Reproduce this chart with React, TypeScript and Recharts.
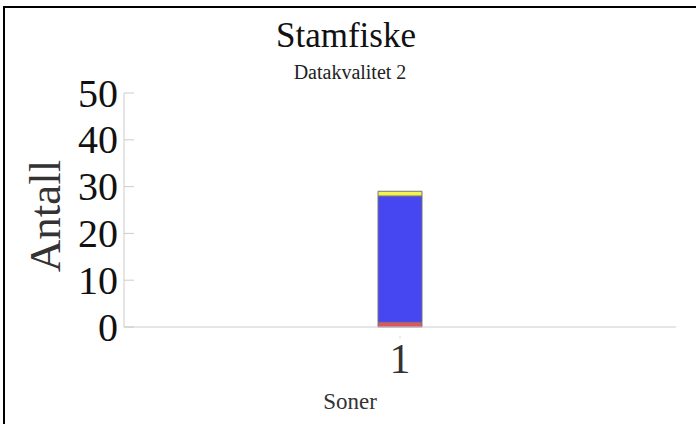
import { BarChart, Bar, XAxis, YAxis } from 'recharts'

const ZONES = ['1']
const RED = [1]
const BLUE = [27]
const YELLOW = [1]
const Y_TICKS = [0, 10, 20, 30, 40, 50]

const SERIES = [
  { key: 'red', color: '#e8505c' },
  { key: 'blue', color: '#4747f2' },
  { key: 'yellow', color: '#f2f250' },
]

const FONT = '"Liberation Serif", "Times New Roman", serif'

const data = ZONES.map((z, i) => ({
  zone: z,
  red: RED[i],
  blue: BLUE[i],
  yellow: YELLOW[i],
}))

function YTick(props: any) {
  const { x, y, payload } = props
  return (
    <g>
      <line x1={x + 6} y1={y} x2={x + 16} y2={y} stroke="#cccccc" strokeWidth={1} />
      <text x={x} y={y} textAnchor="end" dominantBaseline="central" fontSize={40} fontFamily={FONT} fill="#111">
        {payload.value}
      </text>
    </g>
  )
}

function XTick(props: any) {
  const { x, y, payload } = props
  return (
    <g>
      <line x1={x} y1={y + 1} x2={x} y2={y + 4} stroke="#dddddd" strokeWidth={1} />
      <text x={x} y={y + 38} textAnchor="middle" fontSize={42} fontFamily={FONT} fill="#333">
        {payload.value}
      </text>
    </g>
  )
}

export default function App() {
  return (
    <div style={{ position: 'absolute', left: 0, top: 0, width: 696, height: 424, background: '#fff', fontFamily: FONT }}>
      <div style={{ position: 'absolute', left: 3, top: 6, right: 0, bottom: 0, borderTop: '2px solid #000', borderLeft: '2px solid #000' }} />
      <div style={{ position: 'absolute', left: 0, width: 692, top: 14, textAlign: 'center', fontSize: 35, lineHeight: '44px', color: '#111' }}>
        Stamfiske
      </div>
      <div style={{ position: 'absolute', left: 0, width: 700, top: 60, textAlign: 'center', fontSize: 20, lineHeight: '24px', color: '#222' }}>
        Datakvalitet 2
      </div>
      <div
        style={{
          position: 'absolute', left: 45, top: 216, fontSize: 45, lineHeight: '50px', color: '#333',
          transform: 'translate(-50%, -50%) rotate(-90deg)', whiteSpace: 'nowrap',
        }}
      >
        Antall
      </div>
      <div style={{ position: 'absolute', left: 300, width: 100, top: 388, textAlign: 'center', fontSize: 23, lineHeight: '28px', color: '#333' }}>
        Soner
      </div>
      <div style={{ position: 'absolute', left: 0, top: 0 }}>
        <BarChart width={696} height={424} data={data} margin={{ top: 93, right: 20, bottom: 0, left: 0 }} barSize={44}>
          <XAxis dataKey="zone" stroke="#cccccc" tickLine={false} tick={<XTick />} height={97} interval={0} />
          <YAxis
            domain={[0, 50]}
            ticks={Y_TICKS}
            width={124}
            stroke="#cccccc"
            tickLine={false}
            tickSize={0}
            tickMargin={6}
            tick={<YTick />}
            interval={0}
          />
          {SERIES.map((s) => (
            <Bar key={s.key} dataKey={s.key} stackId="a" fill={s.color} stroke="#777" strokeWidth={1} isAnimationActive={false} />
          ))}
        </BarChart>
      </div>
    </div>
  )
}
